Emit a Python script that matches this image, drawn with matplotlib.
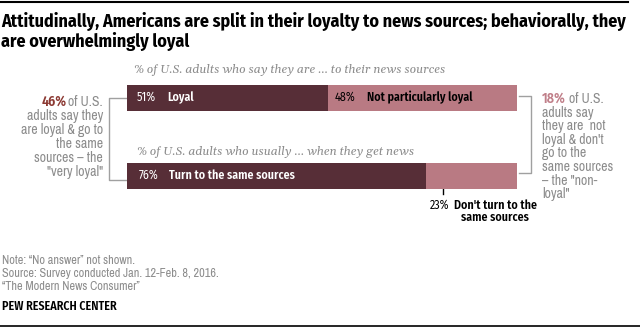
import matplotlib
matplotlib.use("Agg")
import matplotlib.pyplot as plt

sans = ['Archivo Narrow', 'Liberation Sans Narrow', 'DejaVu Sans']
heavy = ['Fira Sans Condensed', 'Barlow Semi Condensed', 'DejaVu Sans']
serif = ['Gelasio', 'Liberation Serif', 'DejaVu Serif']
plt.rcParams['font.family'] = sans

# survey shares (%)
attitude_labels = ["Loyal", "Not particularly loyal"]
attitude_values = [51, 48]
behavior_labels = ["Turn to the same sources", "Don't turn to the\nsame sources"]
behavior_values = [76, 23]
very_loyal = 46
non_loyal = 18

title = ["Attitudinally, Americans are split in their loyalty to news sources; behaviorally, they",
         "are overwhelmingly loyal"]
sub1 = "% of U.S. adults who say they are \u2026 to their news sources"
sub2 = "% of U.S. adults who usually \u2026 when they get news"
left_lines = ["of U.S.", "adults say they", "are loyal & go to", "the same",
              "sources \u2013 the", "\"very loyal\""]
right_lines = ["of U.S.", "adults say", "they are  not", "loyal & don't", "go to the",
               "same sources", "\u2013 the \"non-", "loyal\""]
notes = ["Note: \u201cNo answer\u201d not shown.",
         "Source: Survey conducted Jan. 12-Feb. 8, 2016.",
         "\u201cThe Modern News Consumer\u201d"]

dark = "#572e37"
light = "#b97a83"
gray = "#8c8c8c"

W, H = 640, 328
fig = plt.figure(figsize=(W / 100, H / 100), dpi=100)
renderer = fig.canvas.get_renderer()


def size_for(s, px, **kw):
    # font size that makes string s about px pixels wide
    t = fig.text(0, 0, s, fontsize=10, **kw)
    w = t.get_window_extent(renderer).width
    t.remove()
    return 10 * px / w


B = dict(family=heavy, fontweight="semibold")
P = dict(family=heavy)
fs_title = size_for(title[0], 627, family=heavy, fontweight="bold")
fs_sub = size_for(sub1, 312, family=serif, style="italic")
fs_bar = size_for(attitude_labels[1], 106, **B)
fs_note = size_for("are loyal & go to", 82)
fs_foot = size_for(notes[1], 216)
fs_pew = size_for("PEW RESEARCH CENTER", 115, **B)

# overlay in pixel coordinates for text and brackets
ov = fig.add_axes([0, 0, 1, 1])
ov.set_xlim(0, W)
ov.set_ylim(H, 0)
ov.axis("off")

# bar axes: x in percent, bars at y=0 and y=1
x0, ppp = 127, 3.94
top, bot = 84.5, 188.5
ax = fig.add_axes([x0 / W, (H - bot) / H, 100 * ppp / W, (bot - top) / H])
ax.set_xlim(0, 100)
ax.set_ylim(1 + 1 / 6, -1 / 6)
ax.axis("off")

h = 1 / 3
ax.barh(0, attitude_values[0], height=h, color=dark)
ax.barh(0, attitude_values[1], left=attitude_values[0], height=h, color=light)
ax.barh(1, behavior_values[0], height=h, color=dark)
ax.barh(1, behavior_values[1], left=behavior_values[0], height=h, color=light)

ax.text(2.5, 0, f"{attitude_values[0]}%", color="white", fontsize=fs_bar, va="center", **P)
ax.text(10.1, 0, attitude_labels[0], color="white", fontsize=fs_bar, va="center", **B)
ax.text(attitude_values[0] + 1.8, 0, f"{attitude_values[1]}%", color="black", fontsize=fs_bar,
        va="center", **P)
ax.text(attitude_values[0] + 9.9, 0, attitude_labels[1], color="black", fontsize=fs_bar,
        va="center", **B)
ax.text(3, 1, f"{behavior_values[0]}%", color="white", fontsize=fs_bar, va="center", **P)
ax.text(10.7, 1, behavior_labels[0], color="white", fontsize=fs_bar, va="center", **B)

# title and rules
ov.plot([0, 628], [1.5, 1.5], color="black", lw=1.5)
ov.plot([0, 640], [326, 326], color="black", lw=1.2)
ov.text(1, 27, title[0], fontsize=fs_title, va="baseline", family=heavy, fontweight="bold")
ov.text(1, 47, title[1], fontsize=fs_title, va="baseline", family=heavy, fontweight="bold")

ov.text(134, 70, sub1, family=serif, style="italic", fontsize=fs_sub, color=gray, va="center")
ov.text(137, 152, sub2, family=serif, style="italic", fontsize=fs_sub, color=gray, va="center")

# callout for the small segment
xm = x0 + ppp * (behavior_values[0] + 4.3)
ov.plot([xm, xm], [183, 194], color="black", lw=1)
ov.text(449, 205, f"{behavior_values[1]}%", fontsize=fs_bar, ha="right", va="center", **P)
ov.text(495, 211.5, behavior_labels[1], fontsize=fs_bar, ha="center", va="center",
        linespacing=1.0, **B)

# brackets
ov.plot([127, 108.5, 108.5, 127], [97.5, 97.5, 180, 180], color="#a0a0a0", lw=1)
ov.plot([519, 531, 531, 519], [96, 96, 173, 173], color="#a0a0a0", lw=1)

for i, s in enumerate(left_lines):
    t = ov.text(103, 102 + i * 14, s, fontsize=fs_note, color=gray, ha="right", va="center")
    if i == 0:
        bb = t.get_window_extent(renderer)
        ov.text(W * bb.x0 / fig.bbox.width - 2, 102, f"{very_loyal}%", fontsize=fs_note,
                color="#8c3a33", ha="right", va="center", **B)

for i, s in enumerate(right_lines):
    y = 99 + i * 13.6
    if i == 0:
        n = ov.text(542, y, f"{non_loyal}%", fontsize=fs_note, color="#c07f89",
                    va="center", **B)
        nb = n.get_window_extent(renderer)
        ov.text(W * nb.x1 / fig.bbox.width + 3, y, s, fontsize=fs_note, color=gray, va="center")
    else:
        ov.text(542, y, s, fontsize=fs_note, color=gray, va="center")

# footer
for i, s in enumerate(notes):
    ov.text(2, 261 + i * 12.5, s, fontsize=fs_foot, color=gray, va="center")
ov.text(2, 306, "PEW RESEARCH CENTER", fontsize=fs_pew, color="black", va="center", **B)

fig.savefig("out.png", dpi=100)
